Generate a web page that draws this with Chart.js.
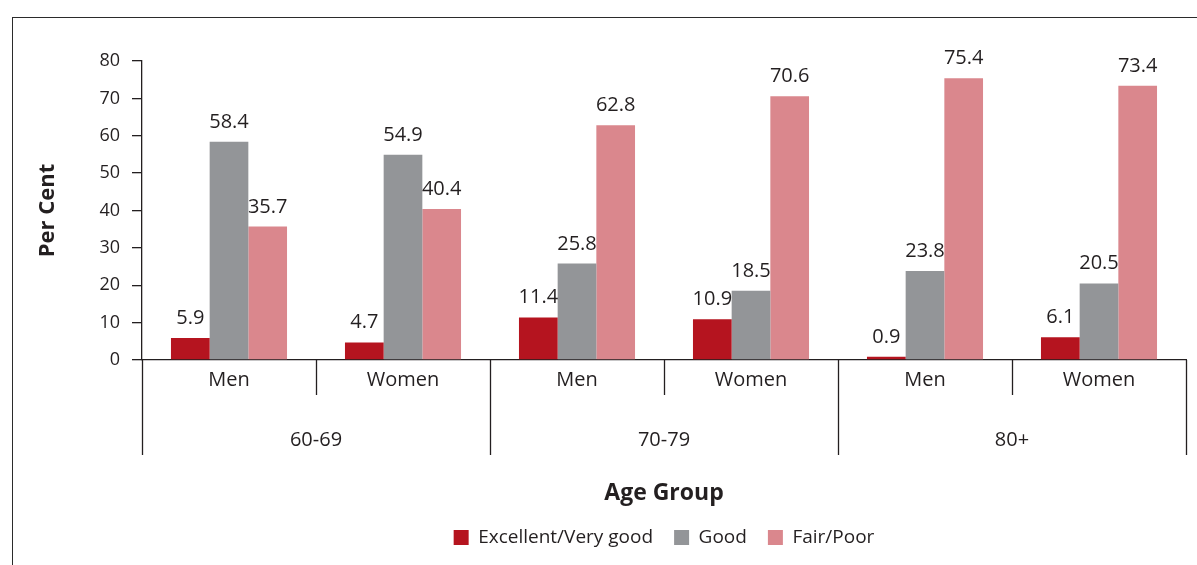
<!DOCTYPE html>
<html>
<head>
<meta charset="utf-8">
<script src="https://cdn.jsdelivr.net/npm/chart.js@4/dist/chart.umd.min.js"></script>
<style>
  html, body { margin: 0; padding: 0; background: #fff; }
  #wrap { position: relative; width: 1197px; height: 565px; overflow: hidden; }
  #frame { position: absolute; left: 12px; top: 17px; width: 1400px; height: 800px; border: 1.5px solid #2b2b2b; box-sizing: border-box; }
  canvas { position: absolute; left: 0; top: 0; }
</style>
</head>
<body>
<div id="wrap">
  <div id="frame"></div>
  <canvas id="c" width="1197" height="565"></canvas>
</div>
<script>
const categories = ['Men', 'Women', 'Men', 'Women', 'Men', 'Women'];
const ageGroups = ['60-69', '70-79', '80+'];
const excellent = [5.9, 4.7, 11.4, 10.9, 0.9, 6.1];
const good = [58.4, 54.9, 25.8, 18.5, 23.8, 20.5];
const fairPoor = [35.7, 40.4, 62.8, 70.6, 75.4, 73.4];
const seriesNames = ['Excellent/Very good', 'Good', 'Fair/Poor'];
const yTicks = [0, 10, 20, 30, 40, 50, 60, 70, 80];

const FONT = "'Open Sans', 'Noto Sans', sans-serif";
const INK = '#231f20';

const labelsPlugin = {
  id: 'valueLabels',
  afterDatasetsDraw(chart) {
    const ctx = chart.ctx;
    ctx.save();
    ctx.font = '20px ' + FONT;
    ctx.fillStyle = INK;
    ctx.textAlign = 'center';
    ctx.textBaseline = 'alphabetic';
    chart.data.datasets.forEach((ds, di) => {
      const meta = chart.getDatasetMeta(di);
      meta.data.forEach((bar, i) => {
        ctx.fillText(ds.data[i].toFixed(1), bar.x, bar.y - 14);
      });
    });
    ctx.restore();
  }
};

const groupPlugin = {
  id: 'groupAxis',
  afterDraw(chart) {
    const ctx = chart.ctx;
    const xs = chart.scales.x;
    const bottom = chart.chartArea.bottom;
    const half = (xs.getPixelForValue(1) - xs.getPixelForValue(0)) / 2;
    ctx.save();
    ctx.strokeStyle = INK;
    ctx.lineWidth = 1.3;
    for (let i = 0; i <= categories.length; i++) {
      const x = i < categories.length ? xs.getPixelForValue(i) - half : xs.getPixelForValue(i - 1) + half;
      const major = i % 2 === 0;
      ctx.beginPath();
      ctx.moveTo(Math.round(x) + 0.5, bottom);
      ctx.lineTo(Math.round(x) + 0.5, bottom + (major ? 95 : 35));
      ctx.stroke();
    }
    ctx.font = '20px ' + FONT;
    ctx.fillStyle = INK;
    ctx.textAlign = 'center';
    ctx.textBaseline = 'middle';
    ageGroups.forEach((g, gi) => {
      const x = (xs.getPixelForValue(gi * 2) + xs.getPixelForValue(gi * 2 + 1)) / 2;
      ctx.fillText(g, x, bottom + 80);
    });
    ctx.restore();
  }
};

new Chart(document.getElementById('c'), {
  type: 'bar',
  data: {
    labels: categories,
    datasets: [
      { label: seriesNames[0], data: excellent, backgroundColor: '#b5141f' },
      { label: seriesNames[1], data: good, backgroundColor: '#939598' },
      { label: seriesNames[2], data: fairPoor, backgroundColor: '#da878d' }
    ]
  },
  options: {
    responsive: false,
    animation: false,
    devicePixelRatio: 1,
    layout: { padding: { left: 35, right: 11, top: 61, bottom: 8 } },
    datasets: { bar: { barPercentage: 1.0, categoryPercentage: 0.667 } },
    plugins: {
      tooltip: { enabled: false },
      legend: {
        position: 'bottom',
        fullSize: false,
        labels: {
          font: { family: FONT, size: 19 },
          color: INK,
          boxWidth: 15,
          boxHeight: 15,
          padding: 21
        }
      }
    },
    scales: {
      x: {
        grid: { display: false, drawTicks: false },
        border: { display: true, color: INK, width: 1.3 },
        ticks: { font: { family: FONT, size: 20 }, color: INK, padding: 8 },
        title: { display: true, text: 'Age Group', font: { family: FONT, size: 23, weight: 'bold' }, color: INK, padding: { top: 0, bottom: 0 } },
        afterFit(s) { s.height = 147; }
      },
      y: {
        min: 0, max: 80,
        afterBuildTicks(s) { s.ticks = yTicks.map(v => ({ value: v })); },
        grid: { drawOnChartArea: false, drawTicks: true, tickLength: 10, color: INK, lineWidth: 1.3 },
        border: { display: true, color: INK, width: 1.3 },
        ticks: { font: { family: FONT, size: 18 }, color: INK, padding: 12 },
        title: { display: true, text: 'Per Cent', font: { family: FONT, size: 22, weight: 'bold' }, color: INK, padding: { top: 0, bottom: 0 } },
        afterFit(s) { s.width = 107; }
      }
    }
  },
  plugins: [labelsPlugin, groupPlugin]
});
</script>
</body>
</html>
